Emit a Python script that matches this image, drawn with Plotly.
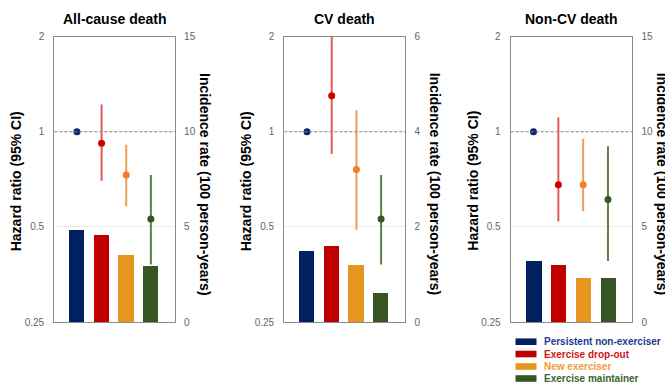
import math
import plotly.graph_objects as go

# ---------------- data ----------------
categories = ["Persistent non-exerciser", "Exercise drop-out", "New exerciser", "Exercise maintainer"]
panel_titles = ["All-cause death", "CV death", "Non-CV death"]

hr_all = [1.0, 0.92, 0.73, 0.53]
hr_lo_all = [1.0, 0.70, 0.58, 0.38]
hr_hi_all = [1.0, 1.22, 0.91, 0.73]
ir_all = [4.84, 4.61, 3.52, 2.94]

hr_cv = [1.0, 1.30, 0.76, 0.53]
hr_lo_cv = [1.0, 0.85, 0.49, 0.38]
hr_hi_cv = [1.0, 2.20, 1.17, 0.73]
ir_cv = [1.50, 1.60, 1.21, 0.62]

hr_noncv = [1.0, 0.68, 0.68, 0.61]
hr_lo_noncv = [1.0, 0.52, 0.56, 0.39]
hr_hi_noncv = [1.0, 1.11, 0.95, 0.90]
ir_noncv = [3.22, 3.03, 2.35, 2.35]

hr_ticks = [0.25, 0.5, 1, 2]
hr_ticktext = ["0.25", "0.5", "1", "2"]
ir_ticks_all = [0, 5, 10, 15]
ir_ticks_cv = [0, 2, 4, 6]
ir_ticks_noncv = [0, 5, 10, 15]
REF_HR = 1.0

left_title = "Hazard ratio (95% CI)"
right_title = "Incidence rate (100 person-years)"

# ---------------- style ----------------
W, H = 665, 382
bar_colors = ["#002060", "#c00000", "#e6951f", "#375623"]
pt_colors = ["#0b2566", "#d00000", "#f07f2c", "#375623"]
ci_colors = ["#0b2566", "#e05a5a", "#f09a55", "#5d7f48"]
legend_text_colors = ["#1c3a8c", "#d01515", "#f39a3a", "#3d6430"]
FONT = "Liberation Sans, Arial, sans-serif"
AXIS_GRAY = "#8a8a8a"
TICK_GRAY = "#666666"

panels = [
    dict(hr=hr_all, lo=hr_lo_all, hi=hr_hi_all, ir=ir_all, irt=ir_ticks_all, x0=54.3, x1=175.0),
    dict(hr=hr_cv, lo=hr_lo_cv, hi=hr_hi_cv, ir=ir_cv, irt=ir_ticks_cv, x0=284.3, x1=405.3),
    dict(hr=hr_noncv, lo=hr_lo_noncv, hi=hr_hi_noncv, ir=ir_noncv, irt=ir_ticks_noncv, x0=510.7, x1=632.3),
]
Y_TOP, Y_BOT = 36.7, 322.0


def px(x):
    return x / W


def py(y):
    return 1 - y / H


fig = go.Figure()
layout = dict(
    width=W, height=H,
    margin=dict(l=0, r=0, t=0, b=0),
    paper_bgcolor="white", plot_bgcolor="white",
    showlegend=False,
    font=dict(family=FONT, color="#000"),
)
annotations = []
shapes = []
xpos = list(range(len(categories)))

for i, p in enumerate(panels):
    xn = "" if i == 0 else str(i + 1)
    ybase = 2 * i + 1          # incidence (linear, right side, base)
    yover = 2 * i + 2          # hazard ratio (log, left side, overlay)
    ybn = "" if ybase == 1 else str(ybase)
    yon = str(yover)

    # bars: incidence rate
    for k, cat in enumerate(categories):
        fig.add_trace(go.Bar(
            x=[xpos[k]], y=[p["ir"][k]], width=0.62,
            marker=dict(color=bar_colors[k], line=dict(width=0)),
            name=cat, xaxis="x" + xn, yaxis="y" + ybn, hoverinfo="skip",
        ))
    # points: hazard ratio with CI
    for k, cat in enumerate(categories):
        up = p["hi"][k] - p["hr"][k]
        dn = p["hr"][k] - p["lo"][k]
        fig.add_trace(go.Scatter(
            x=[xpos[k]], y=[p["hr"][k]], mode="markers",
            marker=dict(color=pt_colors[k], size=7),
            error_y=dict(type="data", symmetric=False, array=[up], arrayminus=[dn],
                         color=ci_colors[k], thickness=2, width=0, visible=up > 0 or dn > 0),
            name=cat, xaxis="x" + xn, yaxis="y" + yon, hoverinfo="skip",
        ))

    dom_x = [px(p["x0"]), px(p["x1"])]
    dom_y = [py(Y_BOT), py(Y_TOP)]
    layout["xaxis" + xn] = dict(
        domain=dom_x, range=[-0.92, 3.98], anchor="y" + ybn,
        showticklabels=False, showgrid=False, zeroline=False, ticks="",
        showline=True, linecolor=AXIS_GRAY, linewidth=1.2, mirror=True,
    )
    irt = p["irt"]
    layout["yaxis" + ybn] = dict(
        domain=dom_y, range=[irt[0], irt[-1]], anchor="x" + xn, side="right",
        tickvals=irt, ticktext=[str(t) for t in irt],
        tickfont=dict(size=10, color=TICK_GRAY, family=FONT),
        showgrid=True, gridcolor="#ececec", gridwidth=1, zeroline=False,
        showline=True, linecolor=AXIS_GRAY, linewidth=1.2, ticks="",
        ticklabelstandoff=6, automargin=False,
    )
    layout["yaxis" + yon] = dict(
        domain=dom_y, type="log",
        range=[math.log10(hr_ticks[0]), math.log10(hr_ticks[-1])],
        overlaying="y" + ybn, anchor="x" + xn, side="left",
        tickvals=hr_ticks, ticktext=hr_ticktext,
        tickfont=dict(size=10, color=TICK_GRAY, family=FONT),
        showgrid=False, zeroline=False,
        showline=True, linecolor=AXIS_GRAY, linewidth=1.2, ticks="",
        ticklabelstandoff=7, automargin=False,
    )
    # reference line at HR = 1
    shapes.append(dict(
        type="line", xref="x" + xn + " domain", x0=0, x1=1,
        yref="y" + yon, y0=REF_HR, y1=REF_HR,
        line=dict(color="#8c8c8c", width=1, dash="3px,2px"),
    ))
    # panel title
    annotations.append(dict(
        text="<b>" + panel_titles[i] + "</b>", x=px((p["x0"] + p["x1"]) / 2), y=py(19),
        xref="paper", yref="paper", showarrow=False, xanchor="center", yanchor="middle",
        font=dict(size=14, color="#000", family=FONT),
    ))
    # axis titles
    annotations.append(dict(
        text="<b>" + left_title + "</b>", x=px(p["x0"] - 38), y=py(181),
        xref="paper", yref="paper", showarrow=False, xanchor="center", yanchor="middle",
        textangle=-90, font=dict(size=14, color="#000", family=FONT),
    ))
    annotations.append(dict(
        text="<b>" + right_title + "</b>", x=px(p["x1"] + 30), y=py(184),
        xref="paper", yref="paper", showarrow=False, xanchor="center", yanchor="middle",
        textangle=90, font=dict(size=14, color="#000", family=FONT),
    ))

# legend drawn at bottom right
leg_rows = [341.7, 354.0, 366.5, 378.5]
for k, cat in enumerate(categories):
    yc = leg_rows[k]
    shapes.append(dict(
        type="rect", xref="paper", yref="paper",
        x0=px(515.5), x1=px(536.5), y0=py(yc + 3.3), y1=py(yc - 3.3),
        fillcolor=bar_colors[k], line=dict(width=0),
    ))
    annotations.append(dict(
        text="<b>" + cat + "</b>", x=px(541.5), y=py(yc),
        xref="paper", yref="paper", showarrow=False, xanchor="left", yanchor="middle",
        font=dict(size=10, color=legend_text_colors[k], family=FONT),
    ))

layout["annotations"] = annotations
layout["shapes"] = shapes
layout["bargap"] = 0
fig.update_layout(**layout)
fig.write_html(
    "out.html",
    config={"displayModeBar": False},
    post_script="document.body.style.margin='0';document.body.style.overflow='hidden';",
)
